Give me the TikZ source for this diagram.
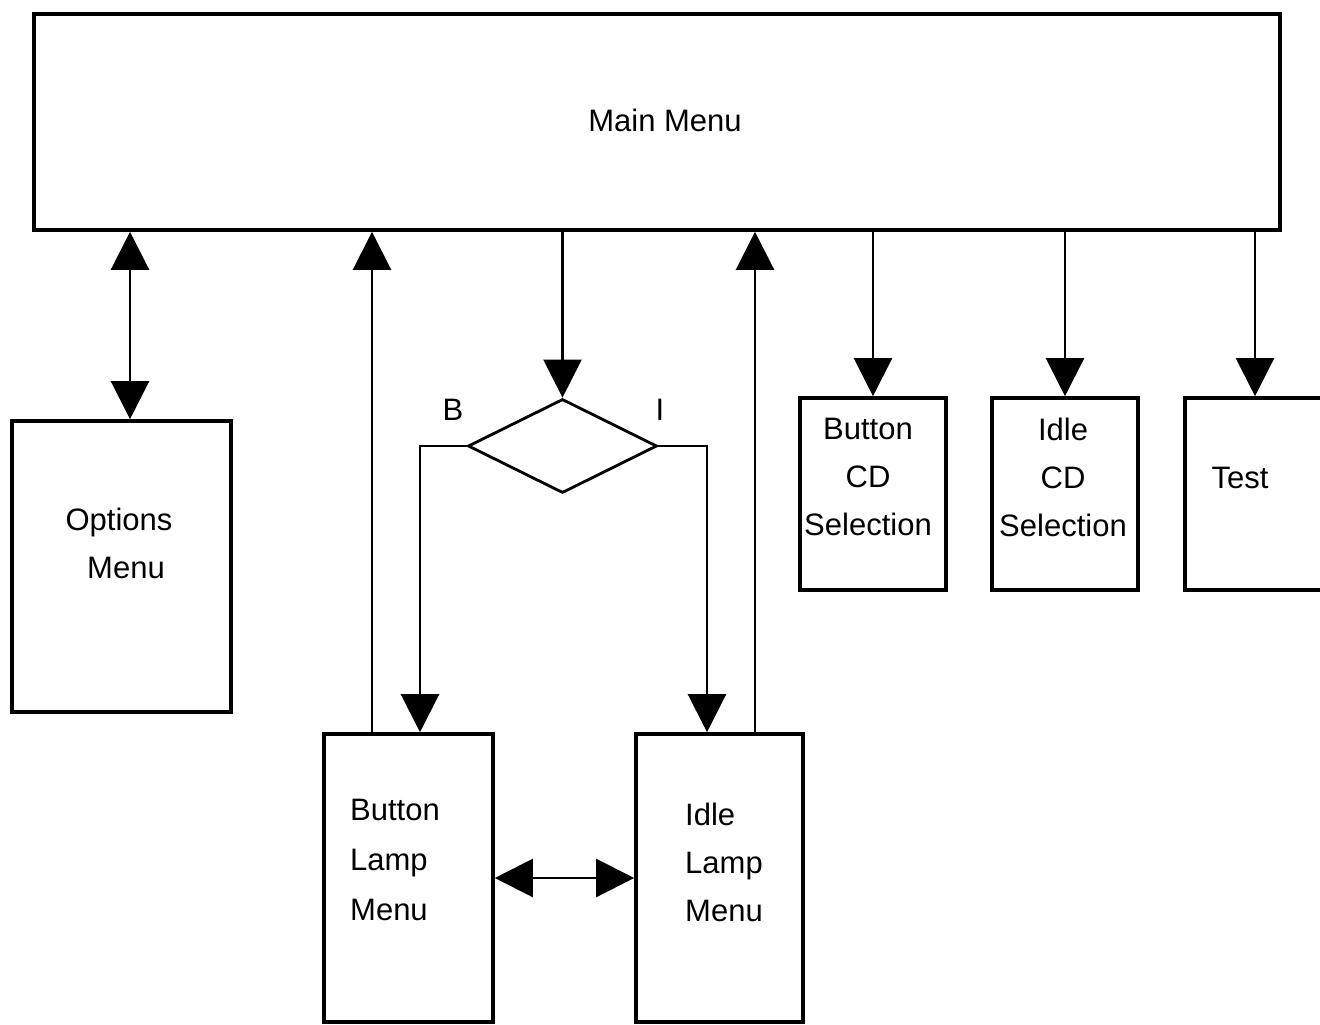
\documentclass[tikz,border=0pt]{standalone}
\usepackage{fontspec}
\setmainfont{Liberation Sans}
\usetikzlibrary{arrows.meta,shapes.geometric}
\begin{document}
\begin{tikzpicture}[x=1pt,y=-1pt,
  box/.style={draw,line width=3.6pt,rectangle,inner sep=0pt},
  lbl/.style={font=\fontsize{31}{48}\selectfont,inner sep=0pt},
  arr/.style={line width=2.3pt,-{Triangle[length=38pt,width=38pt]}},
  darr/.style={line width=2.3pt,{Triangle[length=38pt,width=38pt]}-{Triangle[length=38pt,width=38pt]}},
]
\clip (0,0) rectangle (1320,1025);
\fill[white] (0,0) rectangle (1320,1025);

% boxes
\node[box,minimum width=1246pt,minimum height=216pt] (main) at (657,122) {};
\node[box,minimum width=219pt,minimum height=291pt] (opt) at (121.5,566.5) {};
\node[box,minimum width=169pt,minimum height=288pt] (bl) at (408.5,878) {};
\node[box,minimum width=167pt,minimum height=288pt] (il) at (719.5,878) {};
\node[box,minimum width=146pt,minimum height=192pt] (bcd) at (873,494) {};
\node[box,minimum width=146pt,minimum height=192pt] (icd) at (1065,494) {};
\node[box,minimum width=175pt,minimum height=192pt] (test) at (1272.5,494) {};
\node[draw,line width=2.8pt,diamond,inner sep=0pt,minimum width=189pt,minimum height=94pt] (dia) at (562.5,446) {};

% texts
\node[lbl] (tmain) at (665,120) {Main Menu};
\node[lbl,align=center] (topt) at (119,543) {Options\\\hspace{14pt}Menu};
\node[lbl,align=left,anchor=west,font=\fontsize{31}{50}\selectfont] (tbl) at (350,860) {Button\\Lamp\\Menu};
\node[lbl,align=left,anchor=west] (til) at (685,862) {Idle\\Lamp\\Menu};
\node[lbl,align=center] (tbcd) at (868,477) {Button\\CD\\Selection};
\node[lbl,align=center] (ticd) at (1063,477) {Idle\\CD\\Selection};
\node[lbl] (ttest) at (1240,478) {Test};
\node[lbl] (tB) at (453,410) {B};
\node[lbl] (tI) at (660,410) {I};

% x positions for connectors
\coordinate (x1) at (130,0);
\coordinate (x2) at (372,0);
\coordinate (x3) at (420,0);
\coordinate (x4) at (707,0);
\coordinate (x5) at (755,0);
\coordinate (x6) at (1255,0);

% connectors
\draw[darr] (main.south -| x1) -- (opt.north -| x1);
\draw[arr] (bl.north -| x2) -- (main.south -| x2);
\draw[arr] (main.south -| dia.north) -- (dia.north);
\draw[arr] (dia.west) -- (dia.west -| x3) -- (bl.north -| x3);
\draw[arr] (dia.east) -- (dia.east -| x4) -- (il.north -| x4);
\draw[arr] (il.north -| x5) -- (main.south -| x5);
\draw[arr] (main.south -| bcd.north) -- (bcd.north);
\draw[arr] (main.south -| icd.north) -- (icd.north);
\draw[arr] (main.south -| x6) -- (test.north -| x6);
\draw[darr] (bl.east) -- (il.west);
\end{tikzpicture}
\end{document}
